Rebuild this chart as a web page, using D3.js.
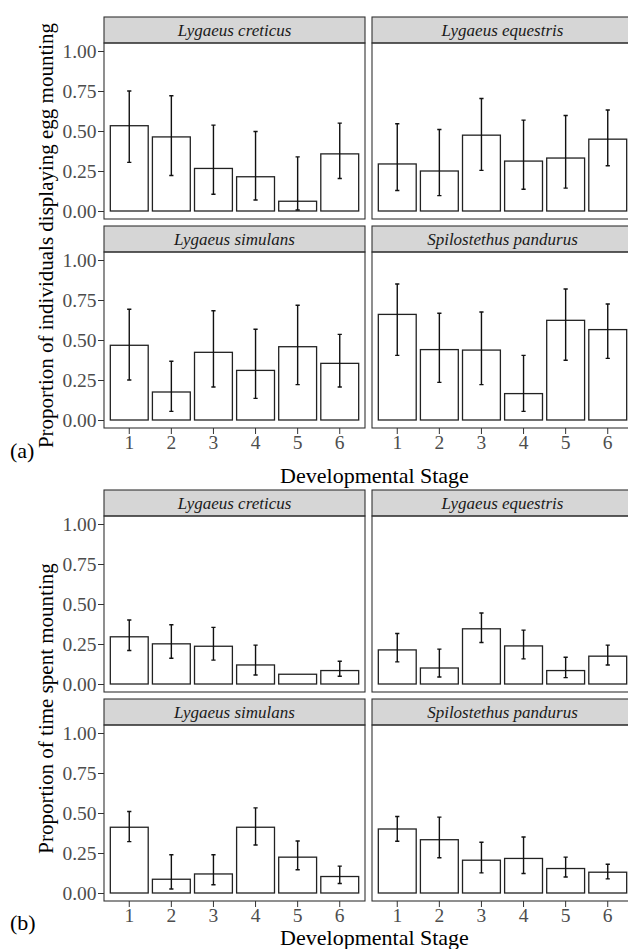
<!DOCTYPE html>
<meta charset="utf-8">
<style>
body { margin: 0; background: #fff; }
svg { font-family: "Liberation Serif", "Times New Roman", serif; }
.strip rect { fill: #d6d6d6; stroke: #333; stroke-width: 1.1; }
.strip text { font-style: italic; font-size: 17px; fill: #1a1a1a; }
.frame { fill: none; stroke: #333; stroke-width: 1.1; }
.bar { fill: #fff; stroke: #222; stroke-width: 1.3; }
.err { stroke: #111; stroke-width: 1.4; fill: none; }
.tick text { font-size: 19.5px; fill: #4d4d4d; font-family: "Liberation Serif", serif; }
.tick line { stroke: #333; }
.title { font-size: 22px; fill: #000; }
.ytitle { font-size: 21px; fill: #000; }
</style>
<svg width="628" height="949"></svg>
<script src="https://d3js.org/d3.v7.min.js"></script>
<script>

var species = ["Lygaeus creticus", "Lygaeus equestris", "Lygaeus simulans", "Spilostethus pandurus"];
var stages = ["1", "2", "3", "4", "5", "6"];
var yTicks = [0, 0.25, 0.5, 0.75, 1];

// (a) proportion of individuals displaying egg mounting
var eggMean = [
  [0.533, 0.463, 0.266, 0.214, 0.061, 0.357],
  [0.294, 0.250, 0.474, 0.312, 0.331, 0.449],
  [0.467, 0.175, 0.423, 0.310, 0.458, 0.354],
  [0.660, 0.440, 0.437, 0.165, 0.623, 0.565]
];
var eggLow = [
  [0.304, 0.222, 0.105, 0.069, 0.006, 0.203],
  [0.128, 0.096, 0.254, 0.136, 0.143, 0.283],
  [0.250, 0.054, 0.206, 0.135, 0.221, 0.206],
  [0.404, 0.235, 0.221, 0.054, 0.373, 0.385]
];
var eggHigh = [
  [0.750, 0.720, 0.537, 0.497, 0.338, 0.549],
  [0.545, 0.509, 0.703, 0.568, 0.597, 0.631],
  [0.692, 0.367, 0.683, 0.567, 0.717, 0.535],
  [0.850, 0.667, 0.675, 0.404, 0.819, 0.725]
];

// (b) proportion of time spent mounting
var timeMean = [
  [0.295, 0.251, 0.236, 0.119, 0.061, 0.084],
  [0.213, 0.100, 0.345, 0.238, 0.084, 0.174],
  [0.411, 0.086, 0.119, 0.411, 0.224, 0.103],
  [0.400, 0.333, 0.205, 0.216, 0.153, 0.130]
];
var timeLow = [
  [0.209, 0.161, 0.149, 0.056, null, 0.048],
  [0.138, 0.044, 0.259, 0.157, 0.040, 0.119],
  [0.321, 0.025, 0.052, 0.300, 0.145, 0.059],
  [0.323, 0.220, 0.126, 0.122, 0.100, 0.088]
];
var timeHigh = [
  [0.400, 0.370, 0.354, 0.243, null, 0.142],
  [0.316, 0.218, 0.444, 0.337, 0.167, 0.243],
  [0.509, 0.239, 0.239, 0.532, 0.325, 0.168],
  [0.478, 0.474, 0.317, 0.350, 0.224, 0.180]
];

var svg = d3.select("svg");

var left = 104, colW = 261, colGap = 7;
var stripH = 26, panelH = 176, rowGap = 7;

function drawFigure(top, mean, low, high, yTitle, tag, xTitleY, tagY) {
  var g = svg.append("g");
  var panelTops = [];

  species.forEach(function(sp, k) {
    var col = k % 2, row = Math.floor(k / 2);
    var x0 = left + col * (colW + colGap);
    var sTop = top + row * (stripH + panelH + rowGap);
    var pTop = sTop + stripH, pBot = pTop + panelH;
    panelTops.push(pTop);

    var x = d3.scaleBand().domain(stages).range([x0, x0 + colW])
        .paddingInner(0.1).paddingOuter(0.15);
    var y = d3.scaleLinear().domain([-0.05, 1.05]).range([pBot, pTop]);

    var strip = g.append("g").attr("class", "strip");
    strip.append("rect").attr("x", x0).attr("y", sTop).attr("width", colW).attr("height", stripH);
    strip.append("text").attr("x", x0 + colW / 2).attr("y", sTop + stripH / 2 + 5.5)
        .attr("text-anchor", "middle").text(sp);

    var rows = stages.map(function(s, i) {
      return {s: s, m: mean[k][i], lo: low[k][i], hi: high[k][i]};
    });

    g.append("g").selectAll("rect").data(rows).enter().append("rect")
        .attr("class", "bar")
        .attr("x", function(d) { return x(d.s); })
        .attr("width", x.bandwidth())
        .attr("y", function(d) { return y(d.m); })
        .attr("height", function(d) { return y(0) - y(d.m); });

    var cap = x.step() * 0.05;
    g.append("g").selectAll("path").data(rows.filter(function(d) { return d.lo != null; }))
      .enter().append("path")
        .attr("class", "err")
        .attr("d", function(d) {
          var cx = x(d.s) + x.bandwidth() / 2;
          return "M" + (cx - cap) + "," + y(d.hi) + "H" + (cx + cap) +
                 "M" + cx + "," + y(d.hi) + "V" + y(d.lo) +
                 "M" + (cx - cap) + "," + y(d.lo) + "H" + (cx + cap);
        });

    g.append("rect").attr("class", "frame")
        .attr("x", x0).attr("y", pTop).attr("width", colW).attr("height", panelH);

    if (col == 0) {
      g.append("g").attr("transform", "translate(" + x0 + ",0)")
          .call(d3.axisLeft(y).tickValues(yTicks).tickFormat(d3.format(".2f"))
                .tickSize(6).tickPadding(1.5))
          .call(function(a) {
            a.select(".domain").remove();
            a.attr("font-family", null).attr("font-size", null);
          });
    }
    if (row == 1) {
      g.append("g").attr("transform", "translate(0," + pBot + ")")
          .call(d3.axisBottom(x).tickSize(6).tickPadding(1.5))
          .call(function(a) {
            a.select(".domain").remove();
            a.attr("font-family", null).attr("font-size", null);
          });
    }
  });

  var yMid = (panelTops[0] + panelTops[2] + panelH) / 2;
  g.append("text").attr("class", "ytitle")
      .attr("transform", "translate(53," + yMid + ") rotate(-90)")
      .attr("text-anchor", "middle").text(yTitle);

  g.append("text").attr("class", "title")
      .attr("x", left + colW + colGap / 2 + 6).attr("y", xTitleY)
      .attr("text-anchor", "middle").text("Developmental Stage");

  g.append("text").attr("class", "title")
      .attr("x", 10).attr("y", tagY).text(tag);
}

drawFigure(17, eggMean, eggLow, eggHigh,
  "Proportion of individuals displaying egg mounting", "(a)", 483, 458);
drawFigure(490, timeMean, timeLow, timeHigh,
  "Proportion of time spent mounting", "(b)", 945, 930);

</script>
